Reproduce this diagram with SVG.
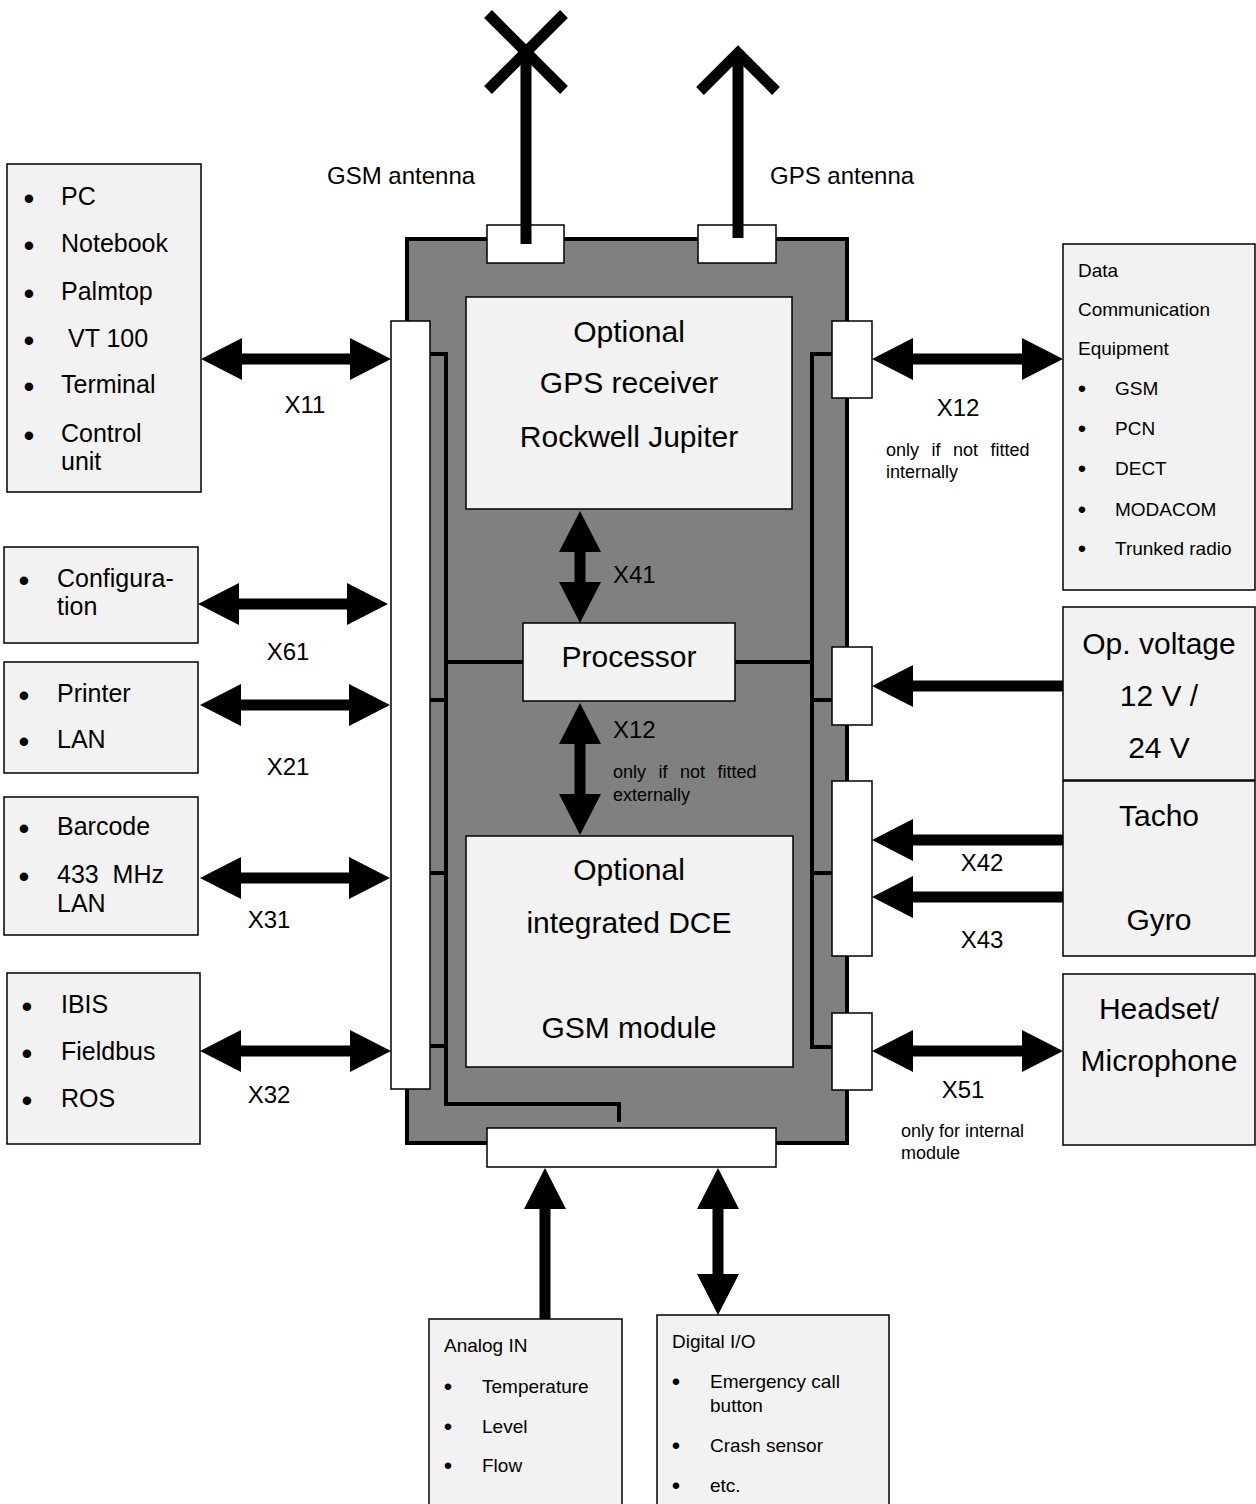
<svg xmlns="http://www.w3.org/2000/svg" width="1256" height="1504" viewBox="0 0 1256 1504">
<style>
text{font-family:"Liberation Sans",Arial,sans-serif;fill:#000}
.box{fill:#f2f2f2;stroke:#000;stroke-width:1.5}
.con{fill:#fff;stroke:#000;stroke-width:1.5}
.bus{fill:none;stroke:#000;stroke-width:4}
.ant{fill:none;stroke:#000;stroke-width:11;stroke-linecap:butt;stroke-linejoin:miter}
.arr{fill:#000;stroke:none}
.big{font-size:30px;text-anchor:middle}
.lst{font-size:25px}
.sm{font-size:19px}
.lbl{font-size:24px}
.note{font-size:18px}
.mid{text-anchor:middle}
.bl{font-size:31px;text-anchor:middle}
.bs{font-size:24px;text-anchor:middle}
</style>
<rect width="1256" height="1504" fill="#fff"/>

<g id="main-unit">
<rect x="407" y="239" width="440" height="904" fill="#808080" stroke="#000" stroke-width="4"/>
</g>

<g id="gsm-antenna">
<line class="ant" x1="526" y1="244" x2="526" y2="50"/>
<line class="ant" x1="488" y1="14" x2="564" y2="90"/>
<line class="ant" x1="564" y1="14" x2="488" y2="90"/>
<rect class="con" x="487" y="225" width="77" height="38"/>
<line class="ant" x1="526" y1="244" x2="526" y2="225"/>
<text class="lbl" x="327" y="184">GSM antenna</text>
</g>

<g id="gps-antenna">
<line class="ant" x1="738" y1="238" x2="738" y2="56"/>
<polyline class="ant" points="700,91 738,53 776,91"/>
<rect class="con" x="698" y="225" width="78" height="38"/>
<line class="ant" x1="738" y1="238" x2="738" y2="225"/>
<text class="lbl" x="770" y="184">GPS antenna</text>
</g>

<g id="connectors">
<path class="bus" d="M430,354 H446 V1104 H619 V1122"/>
<path class="bus" d="M430,700 H446 M430,873 H446 M430,1046 H446 M446,662 H523"/>
<path class="bus" d="M832,354 H812 V1047 H832"/>
<path class="bus" d="M812,700 H832 M812,873 H832 M735,662 H812"/>
<polygon class="arr" points="201,359 242,338 242,353.5 350,353.5 350,338 391,359 350,380 350,364.5 242,364.5 242,380"/>
<polygon class="arr" points="198,604 239,583 239,598.5 347,598.5 347,583 388,604 347,625 347,609.5 239,609.5 239,625"/>
<polygon class="arr" points="200,705 241,684 241,699.5 349,699.5 349,684 390,705 349,726 349,710.5 241,710.5 241,726"/>
<polygon class="arr" points="200,878 241,857 241,872.5 349,872.5 349,857 390,878 349,899 349,883.5 241,883.5 241,899"/>
<polygon class="arr" points="200,1051 241,1030 241,1045.5 350,1045.5 350,1030 391,1051 350,1072 350,1056.5 241,1056.5 241,1072"/>
<polygon class="arr" points="872,359 913,338 913,353.5 1022,353.5 1022,338 1063,359 1022,380 1022,364.5 913,364.5 913,380"/>
<polygon class="arr" points="872,1051 913,1030 913,1045.5 1022,1045.5 1022,1030 1063,1051 1022,1072 1022,1056.5 913,1056.5 913,1072"/>
<polygon class="arr" points="872,686 913,665 913,680.5 1063,680.5 1063,691.5 913,691.5 913,707"/>
<polygon class="arr" points="872,840 913,819 913,834.5 1063,834.5 1063,845.5 913,845.5 913,861"/>
<polygon class="arr" points="872,897 913,876 913,891.5 1063,891.5 1063,902.5 913,902.5 913,918"/>
<polygon class="arr" points="580,511 601,552 585.5,552 585.5,582 601,582 580,623 559,582 574.5,582 574.5,552 559,552"/>
<polygon class="arr" points="580,703 601,744 585.5,744 585.5,794 601,794 580,835 559,794 574.5,794 574.5,744 559,744"/>
<polygon class="arr" points="545,1168 566,1209 550.5,1209 550.5,1319 539.5,1319 539.5,1209 524,1209"/>
<polygon class="arr" points="718,1168 739,1209 723.5,1209 723.5,1274 739,1274 718,1315 697,1274 712.5,1274 712.5,1209 697,1209"/>
<text class="lbl mid" x="305" y="413">X11</text>
<text class="lbl mid" x="288" y="660">X61</text>
<text class="lbl mid" x="288" y="775">X21</text>
<text class="lbl mid" x="269" y="928">X31</text>
<text class="lbl mid" x="269" y="1103">X32</text>
<text class="lbl mid" x="958" y="416">X12</text>
<text class="note" x="886" y="456" word-spacing="7.5">only if not fitted</text>
<text class="note" x="886" y="478">internally</text>
<text class="lbl mid" x="982" y="871">X42</text>
<text class="lbl mid" x="982" y="948">X43</text>
<text class="lbl mid" x="963" y="1098">X51</text>
<text class="note" x="901" y="1137">only for internal</text>
<text class="note" x="901" y="1159">module</text>
<text class="lbl" x="613" y="583">X41</text>
<text class="lbl" x="613" y="738">X12</text>
<text class="note" x="613" y="778" word-spacing="7.5">only if not fitted</text>
<text class="note" x="613" y="801">externally</text>
</g>

<g id="left-strip"><rect class="con" x="391" y="321" width="39" height="768"/></g>
<g id="right-connector-x12"><rect class="con" x="832" y="321" width="40" height="77"/></g>
<g id="right-connector-power"><rect class="con" x="832" y="647" width="40" height="78"/></g>
<g id="right-connector-sensors"><rect class="con" x="832" y="781" width="40" height="175"/></g>
<g id="right-connector-audio"><rect class="con" x="832" y="1013" width="40" height="77"/></g>
<g id="bottom-connector"><rect class="con" x="487" y="1128" width="289" height="39"/></g>

<g id="gps-receiver">
<rect class="box" x="466" y="297" width="326" height="212"/>
<text class="big" x="629" y="342">Optional</text>
<text class="big" x="629" y="393">GPS receiver</text>
<text class="big" x="629" y="447">Rockwell Jupiter</text>
</g>

<g id="processor">
<rect class="box" x="523" y="623" width="212" height="78"/>
<text class="big" x="629" y="667">Processor</text>
</g>

<g id="dce">
<rect class="box" x="466" y="836" width="327" height="231"/>
<text class="big" x="629" y="880">Optional</text>
<text class="big" x="629" y="933">integrated DCE</text>
<text class="big" x="629" y="1038">GSM module</text>
</g>

<g id="pc-box">
<rect class="box" x="7" y="164" width="194" height="328"/>
<text class="bl" x="29" y="209">•</text><text class="lst" x="61" y="205">PC</text>
<text class="bl" x="29" y="256">•</text><text class="lst" x="61" y="252">Notebook</text>
<text class="bl" x="29" y="304">•</text><text class="lst" x="61" y="300">Palmtop</text>
<text class="bl" x="29" y="351">•</text><text class="lst" x="68" y="347">VT 100</text>
<text class="bl" x="29" y="397">•</text><text class="lst" x="61" y="393">Terminal</text>
<text class="bl" x="29" y="446">•</text><text class="lst" x="61" y="442">Control</text>
<text class="lst" x="61" y="470">unit</text>
</g>

<g id="config-box">
<rect class="box" x="4" y="547" width="194" height="96"/>
<text class="bl" x="24" y="591">•</text><text class="lst" x="57" y="587">Configura-</text>
<text class="lst" x="57" y="615">tion</text>
</g>

<g id="printer-box">
<rect class="box" x="4" y="662" width="194" height="111"/>
<text class="bl" x="24" y="706">•</text><text class="lst" x="57" y="702">Printer</text>
<text class="bl" x="24" y="752">•</text><text class="lst" x="57" y="748">LAN</text>
</g>

<g id="barcode-box">
<rect class="box" x="4" y="797" width="194" height="138"/>
<text class="bl" x="24" y="839">•</text><text class="lst" x="57" y="835">Barcode</text>
<text class="bl" x="24" y="887">•</text><text class="lst" x="57" y="883" xml:space="preserve">433  MHz</text>
<text class="lst" x="57" y="912">LAN</text>
</g>

<g id="ibis-box">
<rect class="box" x="7" y="973" width="193" height="171"/>
<text class="bl" x="27" y="1017">•</text><text class="lst" x="61" y="1013">IBIS</text>
<text class="bl" x="27" y="1064">•</text><text class="lst" x="61" y="1060">Fieldbus</text>
<text class="bl" x="27" y="1111">•</text><text class="lst" x="61" y="1107">ROS</text>
</g>

<g id="data-comm-box">
<rect class="box" x="1063" y="244" width="192" height="346"/>
<text class="sm" x="1078" y="277">Data</text>
<text class="sm" x="1078" y="316">Communication</text>
<text class="sm" x="1078" y="355">Equipment</text>
<text class="bs" x="1082" y="397">•</text><text class="sm" x="1115" y="395">GSM</text>
<text class="bs" x="1082" y="437">•</text><text class="sm" x="1115" y="435">PCN</text>
<text class="bs" x="1082" y="477">•</text><text class="sm" x="1115" y="475">DECT</text>
<text class="bs" x="1082" y="518">•</text><text class="sm" x="1115" y="516">MODACOM</text>
<text class="bs" x="1082" y="557">•</text><text class="sm" x="1115" y="555">Trunked radio</text>
</g>

<g id="voltage-box">
<rect class="box" x="1063" y="607" width="192" height="173"/>
<text class="big" x="1159" y="654">Op. voltage</text>
<text class="big" x="1159" y="706">12 V /</text>
<text class="big" x="1159" y="758">24 V</text>
</g>

<g id="tacho-box">
<rect class="box" x="1063" y="781" width="192" height="175"/>
<text class="big" x="1159" y="826">Tacho</text>
<text class="big" x="1159" y="930">Gyro</text>
</g>

<g id="headset-box">
<rect class="box" x="1063" y="974" width="192" height="171"/>
<text class="big" x="1159" y="1019">Headset/</text>
<text class="big" x="1159" y="1071">Microphone</text>
</g>

<g id="analog-box">
<rect class="box" x="429" y="1319" width="193" height="200"/>
<text class="sm" x="444" y="1352">Analog IN</text>
<text class="bs" x="448" y="1395">•</text><text class="sm" x="482" y="1393">Temperature</text>
<text class="bs" x="448" y="1435">•</text><text class="sm" x="482" y="1433">Level</text>
<text class="bs" x="448" y="1474">•</text><text class="sm" x="482" y="1472">Flow</text>
</g>

<g id="digital-box">
<rect class="box" x="657" y="1315" width="232" height="200"/>
<text class="sm" x="672" y="1348">Digital I/O</text>
<text class="bs" x="676" y="1390">•</text><text class="sm" x="710" y="1388">Emergency call</text>
<text class="sm" x="710" y="1412">button</text>
<text class="bs" x="676" y="1454">•</text><text class="sm" x="710" y="1452">Crash sensor</text>
<text class="bs" x="676" y="1494">•</text><text class="sm" x="710" y="1492">etc.</text>
</g>
</svg>
